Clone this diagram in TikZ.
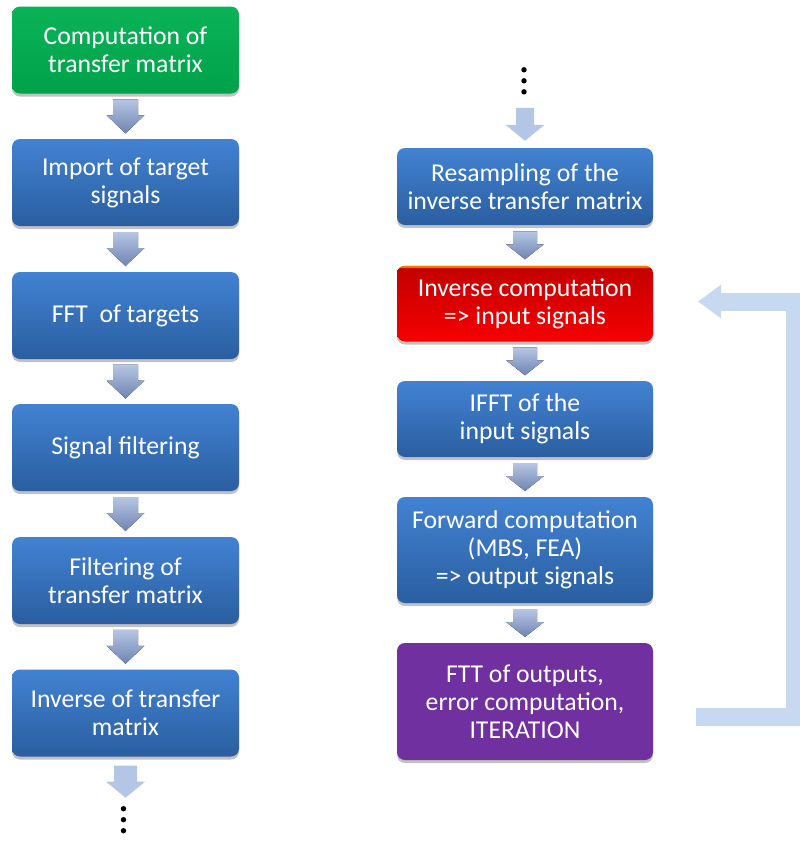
\documentclass[tikz,border=0pt]{standalone}
\usepackage{fontspec}
\setmainfont{Carlito}
\usetikzlibrary{calc,shadows}

\definecolor{blueTop}{RGB}{66,130,210}
\definecolor{blueBot}{RGB}{42,94,160}
\definecolor{greenBox}{RGB}{0,176,80}
\definecolor{redTop}{RGB}{196,0,0}
\definecolor{redBot}{RGB}{246,0,0}
\definecolor{purpleBox}{RGB}{112,48,160}
\definecolor{arrTop}{RGB}{182,198,228}
\definecolor{arrBot}{RGB}{112,132,178}
\definecolor{arrFlat}{RGB}{180,198,230}
\definecolor{fbBlue}{RGB}{198,217,241}

% red box: dark red at the top, bright red below, thin orange rim on top
\pgfdeclareverticalshading{redfade}{100bp}{%
  color(0bp)=(redBot); color(25bp)=(redBot); color(73.2bp)=(redTop);
  color(74.2bp)=(orange); color(100bp)=(orange)}

\tikzset{
  stepbox/.style={rounded corners=8pt, text=white, align=center,
    inner sep=0pt, font=\fontsize{25.7}{28}\selectfont,
    drop shadow={shadow xshift=0pt, shadow yshift=-3pt, opacity=0.35, fill=black!70}},
  leftbox/.style={stepbox, minimum width=227pt, minimum height=87pt},
  rightbox/.style={stepbox, minimum width=256pt},
  bluebox/.style={top color=blueTop, bottom color=blueBot},
  greenbox/.style={top color=greenBox!96!white, bottom color=greenBox!92!black},
  redbox/.style={shading=redfade},
  purplebox/.style={fill=purpleBox},
  arrgrad/.style={top color=arrTop, bottom color=arrBot},
  arrflat/.style={fill=arrFlat},
  dotmark/.style={circle, fill=black, inner sep=0pt, minimum size=5.4pt},
  fbline/.style={draw=fbBlue, line width=18pt, line join=miter},
  % block arrow pointing down: height, shaft width, head width, head height, fill style
  pics/downarr/.style n args={5}{code={
    \fill[#5] (-#2/2,-#1/2) -- (#2/2,-#1/2) -- (#2/2,#1/2-#4) -- (#3/2,#1/2-#4)
      -- (0,#1/2) -- (-#3/2,#1/2-#4) -- (-#2/2,#1/2-#4) -- cycle;
  }}
}

\begin{document}
\begin{tikzpicture}[x=1pt,y=-1pt]
\useasboundingbox (0,0) rectangle (800,841);

% ---- left column ----
\node[leftbox, greenbox] (green)  at (125.5,50)    {Computation of\\transfer matrix};
\node[leftbox, bluebox]  (import) at (125.5,182.5) {Import of target\\signals};
\node[leftbox, bluebox]  (fft)    at (125.5,315.5) {FFT\ \ of targets};
\node[leftbox, bluebox]  (sig)    at (125.5,447.5) {Signal filtering};
\node[leftbox, bluebox]  (filt)   at (125.5,580.5) {Filtering of\\transfer matrix};
\node[leftbox, bluebox]  (inv)    at (125.5,713)   {Inverse of transfer\\matrix};

\foreach \a/\b in {green/import, import/fft, fft/sig, sig/filt, filt/inv}
  \pic at ($(\a.south)!0.5!(\b.north)$) {downarr={34}{25}{38}{18}{arrgrad}};

\pic at ($(inv.south)+(0,25)$) {downarr={32}{23}{39}{16}{arrflat}};
\node[dotmark] (ld1) at ($(inv.south)+(-2,52)$) {};
\node[dotmark] (ld2) at ($(ld1)+(0,11)$) {};
\node[dotmark] (ld3) at ($(ld2)+(0,11)$) {};

% ---- right column ----
\node[rightbox, bluebox,   minimum height=77pt]  (resamp) at (525,186.5) {Resampling of the\\inverse transfer matrix};
\node[rightbox, redbox,    minimum height=76pt]  (red)    at (525,303.5) {Inverse computation\\=> input signals};
\node[rightbox, bluebox,   minimum height=76pt]  (ifft)   at (525,419)   {IFFT of the\\input signals};
\node[rightbox, bluebox,   minimum height=106pt] (fwd)    at (525,550)   {Forward computation\\(MBS, FEA)\\=> output signals};
\node[rightbox, purplebox, minimum height=117pt] (purple) at (525,701.5) {FTT of outputs,\\error computation,\\ITERATION};

\foreach \a/\b in {resamp/red, red/ifft, ifft/fwd, fwd/purple}
  \pic at ($(\a.south)!0.5!(\b.north)$) {downarr={28}{24}{38}{15}{arrgrad}};

\pic at ($(resamp.north)+(0,-23.5)$) {downarr={33}{18}{39}{16}{arrflat}};
\node[dotmark] (rd3) at ($(resamp.north)+(-1,-56)$) {};
\node[dotmark] (rd2) at ($(rd3)+(0,-11)$) {};
\node[dotmark] (rd1) at ($(rd2)+(0,-11)$) {};

% ---- iteration loop back to the inverse computation ----
\coordinate (fbS) at ($(purple.east)+(43,15.5)$);
\coordinate (fbT) at ($(red.east)+(45,-2)$);
\coordinate (fbX) at (795,0);
\draw[fbline] (fbS) -| (fbX |- fbT) -- ($(fbT)+(22,0)$);
\fill[fbBlue] ($(fbT)+(23,-17)$) -- (fbT) -- ($(fbT)+(23,17)$) -- cycle;
\end{tikzpicture}
\end{document}
